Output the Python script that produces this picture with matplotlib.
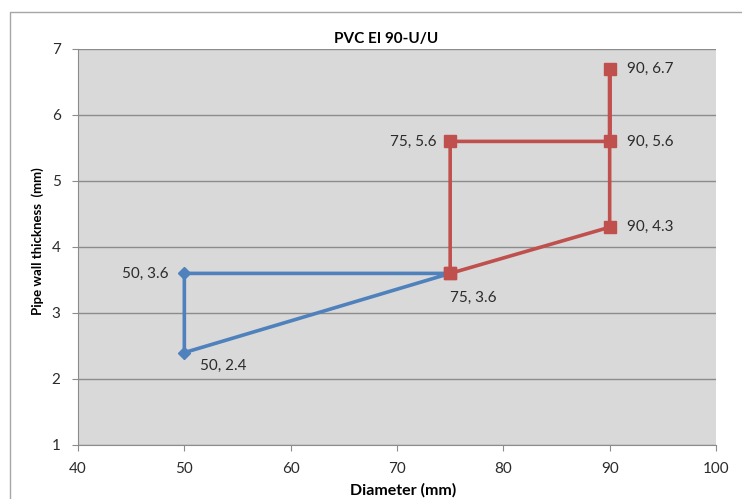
import matplotlib.pyplot as plt
from matplotlib.lines import Line2D

plt.rcParams['font.family'] = ['Lato', 'DejaVu Sans']

# blue series (closed triangle)
blue_x = [75, 50, 50, 75]
blue_y = [3.6, 3.6, 2.4, 3.6]
# red series
red_x = [75, 75, 90, 90, 90, 75]
red_y = [3.6, 5.6, 5.6, 6.7, 4.3, 3.6]

# data labels: (x, y, text, offset_px, ha)
labels = [
    (50, 3.6, "50, 3.6", (-16, 0), 'right'),
    (50, 2.4, "50, 2.4", (16, -13), 'left'),
    (75, 3.6, "75, 3.6", (0, -24), 'left'),
    (75, 5.6, "75, 5.6", (-14, 0), 'right'),
    (90, 6.7, "90, 6.7", (17, 0), 'left'),
    (90, 5.6, "90, 5.6", (17, 0), 'left'),
    (90, 4.3, "90, 4.3", (17, 0), 'left'),
]

blue = '#4F81BD'
red = '#C0504D'
grid = '#8c8c8c'
txt = '#2b2b2b'

fig = plt.figure(figsize=(7.42, 4.99), dpi=100)
# chart area border (only left and top show in the crop)
fig.lines.append(Line2D([10 / 742, 10 / 742, 1], [0, 1 - 12 / 499, 1 - 12 / 499],
                        transform=fig.transFigure, color='#a6a6a6', linewidth=1))
ax = fig.add_axes([78 / 742, 1 - 445 / 499, (716 - 78) / 742, (445 - 49) / 499])
ax.set_facecolor('#d9d9d9')

ax.set_xlim(40, 100)
ax.set_ylim(1, 7)
ax.set_xticks(range(40, 101, 10))
ax.set_yticks(range(1, 8))
ax.yaxis.grid(True, color=grid, linewidth=1)
ax.set_axisbelow(True)
for s in ['top', 'right']:
    ax.spines[s].set_visible(False)
for s in ['left', 'bottom']:
    ax.spines[s].set_color(grid)
ax.tick_params(direction='out', length=4, color=grid, labelsize=11,
               labelcolor=txt, pad=8.5)

ax.plot(blue_x, blue_y, color=blue, linewidth=2.6, marker='D', markersize=6,
        zorder=3, clip_on=False)
ax.plot(red_x, red_y, color=red, linewidth=2.6, marker='s', markersize=9,
        zorder=4, clip_on=False)

for x, y, t, off, ha in labels:
    ax.annotate(t, (x, y), xytext=off, textcoords='offset pixels',
                ha=ha, va='center', fontsize=11, color=txt)

fig.text(386 / 742, 1 - 39 / 499, "PVC EI 90-U/U", ha='center', va='center',
         fontsize=11, fontweight='bold')
fig.text(403 / 742, 1 - 490 / 499, "Diameter (mm)", ha='center', va='center',
         fontsize=11.5, fontweight='bold')
fig.text(38 / 742, 1 - 241 / 499, "Pipe wall thickness  (mm)", ha='center', va='center',
         rotation=90, fontsize=9.5, fontweight='bold')

fig.savefig('out.png', dpi=100)
